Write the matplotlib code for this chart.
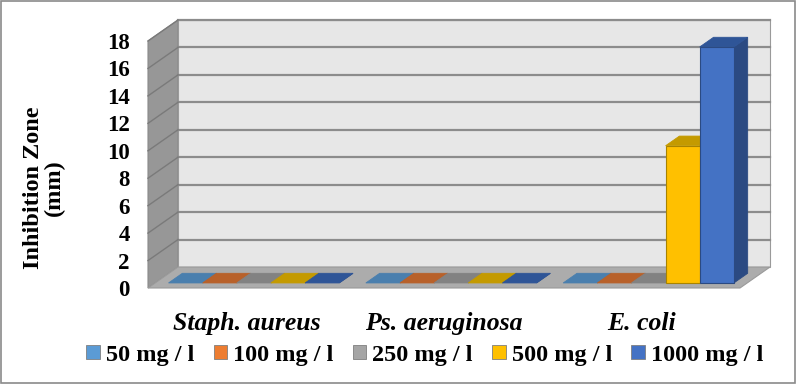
#!/usr/bin/env python
# coding: utf-8

r"""Inhibition zone per bacterium and concentration, Excel-like 3D bars"""

import numpy as np
import matplotlib.pyplot as plt
from matplotlib.patches import Polygon, Patch, Rectangle

# data
bacteria = ['Staph. aureus', 'Ps. aeruginosa', 'E. coli']
doses = ['50 mg / l', '100 mg / l', '250 mg / l', '500 mg / l', '1000 mg / l']
zone = {
    '50 mg / l':   [0, 0, 0],
    '100 mg / l':  [0, 0, 0],
    '250 mg / l':  [0, 0, 0],
    '500 mg / l':  [0, 0, 10],
    '1000 mg / l': [0, 0, 17.2],
}
yticks = list(range(0, 19, 2))

front_col = ['#5b9bd5', '#ed7d31', '#a5a5a5', '#ffc000', '#4472c4']
top_col = ['#4a7fae', '#b8612a', '#828282', '#c49a00', '#2f5597']
side_col = ['#3f6d96', '#a35424', '#6e6e6e', '#a88300', '#2b4a82']

plt.rcParams['font.family'] = ['Liberation Serif', 'DejaVu Serif']

fig = plt.figure(figsize=(7.97, 3.84), dpi=100)
ax = fig.add_axes([148 / 797, 96 / 384, 592 / 797, 247 / 384])
ax.set_xlim(0, 3)
ax.set_ylim(0, 18)

# depth of the 3d box in data units
DX = 30 / 592 * 3
DY = 21 / 247 * 18
ymax = 18

# walls and floor
left_wall = Polygon([(0, 0), (0, ymax), (DX, ymax + DY), (DX, DY)],
                    closed=True, fc='#979797', ec='#8a8a8a', lw=0.8,
                    clip_on=False, zorder=1)
back_wall = Polygon([(DX, DY), (DX, ymax + DY), (3 + DX, ymax + DY), (3 + DX, DY)],
                    closed=True, fc='#e7e7e7', ec='#9a9a9a', lw=0.8,
                    clip_on=False, zorder=1)
floor = Polygon([(0, 0), (3, 0), (3 + DX, DY), (DX, DY)],
                closed=True, fc='#acacac', ec='#9a9a9a', lw=0.8,
                clip_on=False, zorder=2)
for p in (left_wall, back_wall, floor):
    ax.add_patch(p)

for t in yticks[1:]:
    ax.plot([DX, 3 + DX], [t + DY, t + DY], color='#8c8c8c', lw=1.6,
            clip_on=False, zorder=1.5)
    ax.plot([0, DX], [t, t + DY], color='#7a7a7a', lw=1.0,
            clip_on=False, zorder=1.5)

# bars
f0, f1 = 0.24, 0.70
n = len(doses)
bw = 0.173
x0 = np.arange(len(bacteria)) + (1 - n * bw) / 2 + f0 * DX
base = f0 * DY
bdx, bdy = (f1 - f0) * DX, (f1 - f0) * DY

for j in range(len(bacteria)):
    for i, d in enumerate(doses):
        h = zone[d][j]
        x = x0[j] + i * bw
        top = base + h
        side = Polygon([(x + bw, base), (x + bw, top), (x + bw + bdx, top + bdy),
                        (x + bw + bdx, base + bdy)], closed=True,
                       fc=side_col[i], ec=side_col[i], lw=0.6, zorder=3, clip_on=False)
        cap = Polygon([(x, top), (x + bw, top), (x + bw + bdx, top + bdy),
                       (x + bdx, top + bdy)], closed=True,
                      fc=top_col[i], ec=top_col[i], lw=0.6, zorder=3, clip_on=False)
        ax.add_patch(side)
        ax.add_patch(cap)
        if h > 0:
            ax.bar(x, h, width=bw, bottom=base, align='edge', color=front_col[i],
                   edgecolor=side_col[i], lw=0.8, zorder=3.5, clip_on=False)

# axes text
for s in ax.spines.values():
    s.set_visible(False)
ax.set_yticks(yticks)
ax.set_yticklabels([str(t) for t in yticks], fontsize=16.5, fontweight='bold')
ax.set_xticks(np.arange(len(bacteria)) + 0.5)
ax.set_xticklabels(bacteria, fontsize=18.5, fontweight='bold', style='italic')
ax.tick_params(axis='y', length=0, pad=13)
ax.tick_params(axis='x', length=0, pad=17)

fig.text(44 / 797, 1 - 188 / 384, 'Inhibition Zone\n(mm)', rotation=90,
         ha='center', va='center', multialignment='center',
         fontsize=17.5, fontweight='bold', linespacing=1.0)

handles = [Patch(fc=c, ec='#7f7f7f', lw=0.6) for c in front_col]
fig.legend(handles, doses, loc='center', bbox_to_anchor=(0.533, 1 - 355 / 384),
           ncol=5, frameon=False, handlelength=0.55, handleheight=0.55,
           handletextpad=0.25, columnspacing=0.8,
           prop={'size': 17.5, 'weight': 'bold'})

fig.patches.append(Rectangle((0.001, 0.002), 0.997, 0.995, transform=fig.transFigure,
                             fill=False, ec='#8a8a8a', lw=1.2))

fig.savefig('out.png', dpi=100)
